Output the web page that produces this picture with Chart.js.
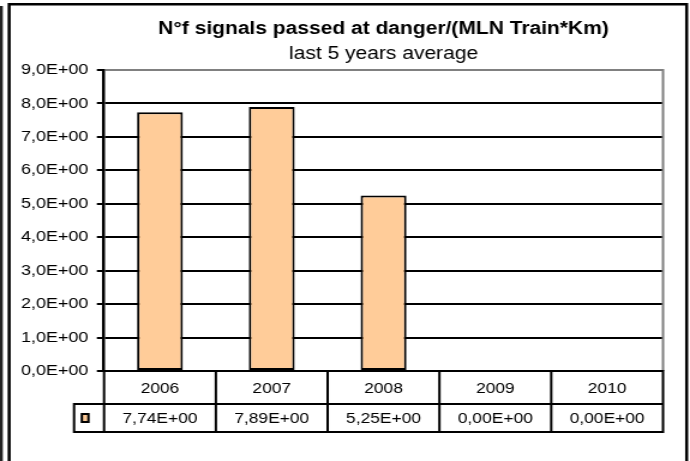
<!DOCTYPE html>
<html><head><meta charset="utf-8">
<script src="https://cdn.jsdelivr.net/npm/chart.js@4"></script>
<style>
html,body{margin:0;padding:0;background:#fff;overflow:hidden}
#wrap{width:575px;height:461px;transform:scaleX(1.2);transform-origin:0 0}
canvas{display:block}
</style></head><body>
<div id="wrap"><canvas id="c" width="575" height="461"></canvas></div>
<script>
// ---- data ----
const categories = ['2006', '2007', '2008', '2009', '2010'];
const values = [7.74, 7.89, 5.25, 0.00, 0.00];
const yMin = 0, yMax = 9, yStep = 1;
const titleText = 'N°f signals passed at danger/(MLN Train*Km)';
const subtitleText = 'last 5 years average';

const FONT = "'Liberation Sans', Arial, sans-serif";
const BAR_FILL = '#FFCC99';

function fmtExp(v, d) {
  return v.toExponential(d).replace('.', ',')
    .replace(/e([+-])(\d+)$/, (m, s, e) => 'E' + s + e.padStart(2, '0'));
}

const excelPlugin = {
  id: 'excelTable',
  beforeDraw(chart) {
    const ctx = chart.ctx;
    ctx.save();
    ctx.fillStyle = '#fff';
    ctx.fillRect(0, 0, chart.width, chart.height);
    ctx.restore();
  },
  beforeDatasetsDraw(chart) {
    const ctx = chart.ctx, a = chart.chartArea;
    ctx.save();
    ctx.strokeStyle = '#808080';
    ctx.lineWidth = 2;
    ctx.beginPath();
    ctx.moveTo(a.right, a.top - 1);
    ctx.lineTo(a.right, a.bottom);
    ctx.stroke();
    ctx.restore();
  },
  afterDraw(chart) {
    const ctx = chart.ctx, a = chart.chartArea, x = chart.scales.x;
    const n = categories.length;
    const half = (x.getPixelForValue(1) - x.getPixelForValue(0)) / 2;
    const bounds = [];
    for (let i = 0; i < n; i++) bounds.push(x.getPixelForValue(i) - half);
    bounds.push(x.getPixelForValue(n - 1) + half);
    const r1Top = a.bottom, r1Bot = a.bottom + 33, r2Bot = a.bottom + 61;
    const legLeft = 61.7;
    ctx.save();
    ctx.strokeStyle = '#000';
    ctx.lineWidth = 2;
    ctx.beginPath();
    ctx.moveTo(bounds[0] - 1, r1Top); ctx.lineTo(bounds[n] + 1, r1Top);
    ctx.moveTo(legLeft - 1, r1Bot); ctx.lineTo(bounds[n] + 1, r1Bot);
    ctx.moveTo(legLeft - 1, r2Bot); ctx.lineTo(bounds[n] + 1, r2Bot);
    bounds.forEach(b => { ctx.moveTo(b, r1Top); ctx.lineTo(b, r2Bot); });
    ctx.moveTo(legLeft, r1Bot); ctx.lineTo(legLeft, r2Bot);
    ctx.stroke();
    ctx.fillStyle = '#000';
    ctx.font = '14.5px ' + FONT;
    ctx.textAlign = 'center';
    ctx.textBaseline = 'middle';
    for (let i = 0; i < n; i++) {
      const cx = x.getPixelForValue(i);
      ctx.fillText(categories[i], cx, (r1Top + r1Bot) / 2 + 1);
      ctx.fillText(fmtExp(values[i], 2), cx, (r1Bot + r2Bot) / 2 + 1);
    }
    const kx = legLeft + 6.5, ky = (r1Bot + r2Bot) / 2 - 4;
    ctx.fillStyle = BAR_FILL;
    ctx.fillRect(kx, ky, 5.5, 8);
    ctx.lineWidth = 2;
    ctx.strokeRect(kx, ky, 5.5, 8);
    ctx.lineWidth = 2.5;
    ctx.strokeStyle = '#000';
    ctx.beginPath();
    ctx.moveTo(7.6, 475); ctx.lineTo(7.6, 4.2); ctx.lineTo(572.2, 4.2); ctx.lineTo(572.2, 475);
    ctx.stroke();
    ctx.strokeStyle = '#222';
    ctx.beginPath();
    ctx.moveTo(1.1, 6); ctx.lineTo(1.1, 475);
    ctx.stroke();
    ctx.restore();
  }
};

new Chart(document.getElementById('c'), {
  type: 'bar',
  data: {
    labels: categories,
    datasets: [{
      data: values,
      backgroundColor: BAR_FILL,
      borderColor: '#000',
      borderWidth: 2,
      borderSkipped: false,
      barPercentage: 0.41,
      categoryPercentage: 1.0
    }]
  },
  options: {
    responsive: false,
    devicePixelRatio: 1,
    animation: false,
    events: [],
    layout: { padding: { left: 0, top: 0, right: 22.5, bottom: 90 } },
    scales: {
      x: { display: false },
      y: {
        min: yMin, max: yMax,
        afterFit(scale) { scale.width = 86.7; },
        ticks: {
          stepSize: yStep,
          padding: 7,
          color: '#000',
          font: { family: FONT, size: 15 },
          callback: v => fmtExp(v, 1)
        },
        grid: {
          color: c => (c.tick && c.tick.value === yMax) ? '#808080' : '#000',
          lineWidth: 2,
          tickColor: '#000',
          tickLength: 6,
          drawTicks: true
        },
        border: { display: true, color: '#000', width: 2.5 }
      }
    },
    plugins: {
      legend: { display: false },
      tooltip: { enabled: false },
      title: {
        display: true, text: titleText, color: '#000', fullSize: false,
        font: { family: FONT, size: 17.5, weight: 'bold' },
        padding: { top: 18.5, bottom: 0 }
      },
      subtitle: {
        display: true, text: subtitleText, color: '#000', fullSize: false,
        font: { family: FONT, size: 17.5, weight: 'normal' },
        padding: { top: 4, bottom: 5.5 }
      }
    }
  },
  plugins: [excelPlugin]
});
</script>
</body></html>
